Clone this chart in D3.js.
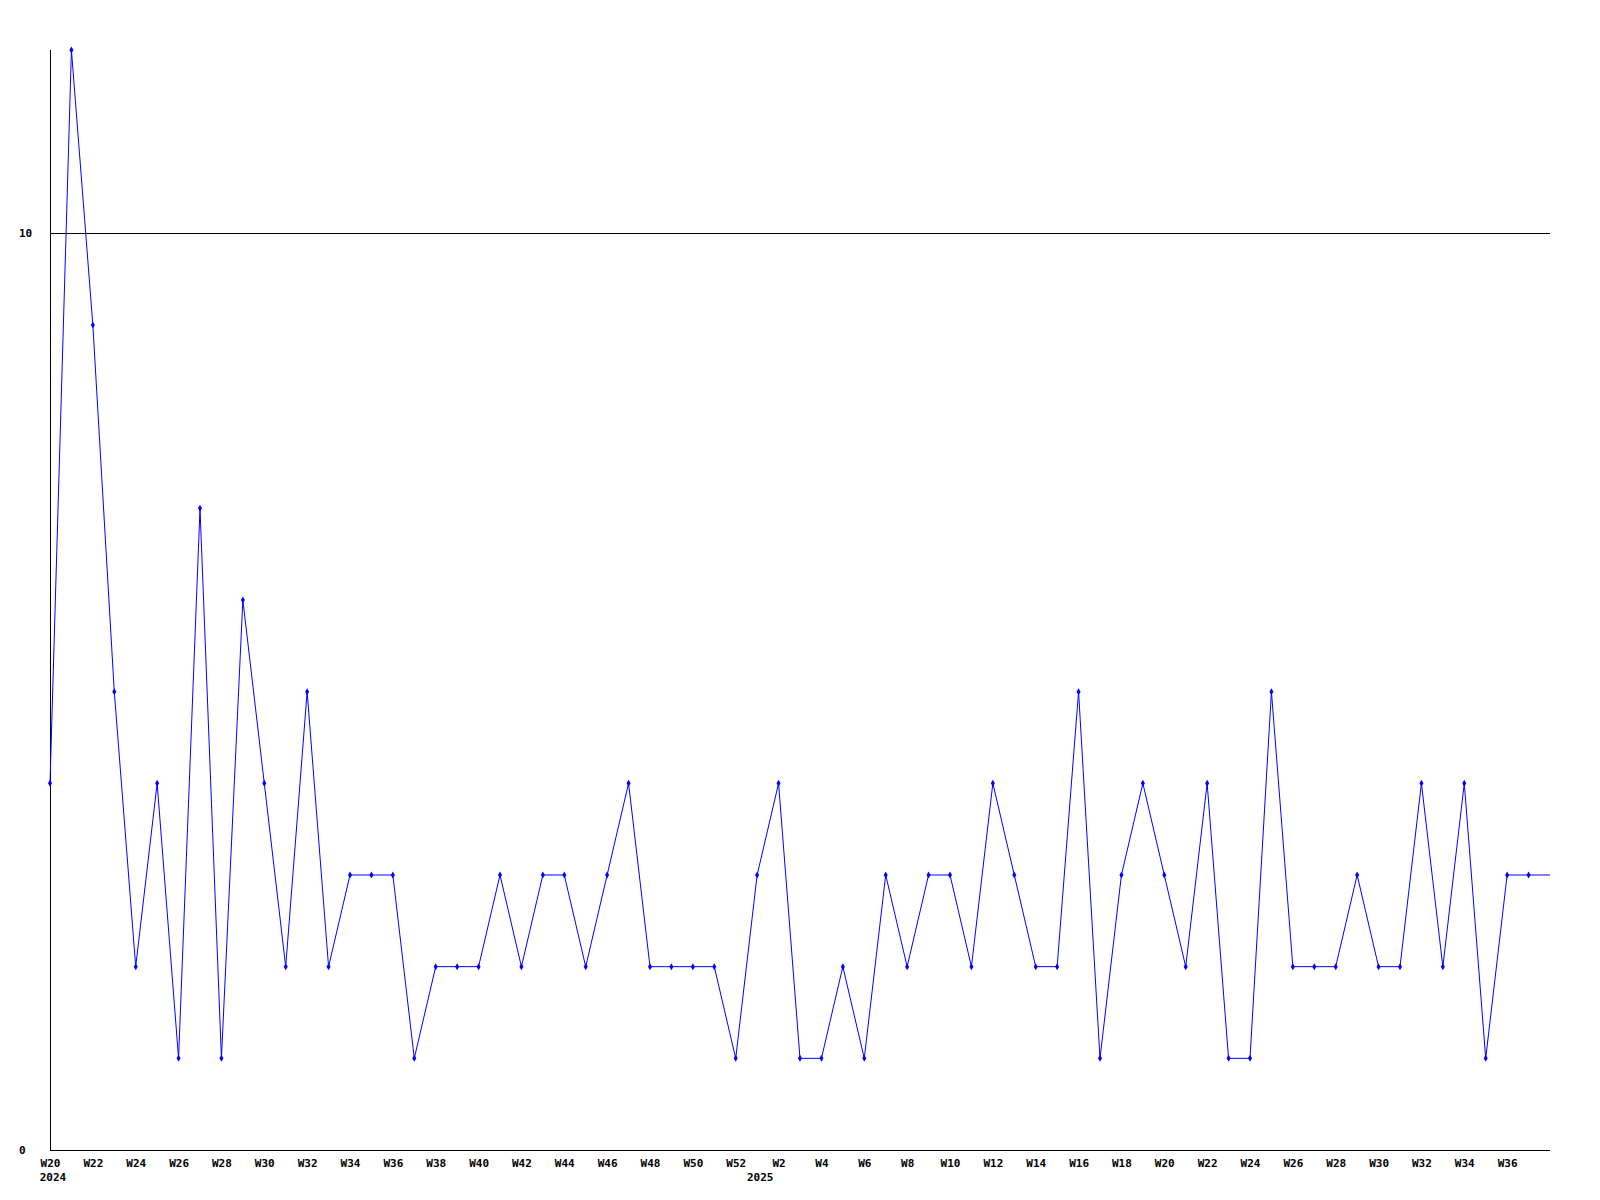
<!DOCTYPE html>
<html>
<head>
<meta charset="utf-8">
<script src="https://cdn.jsdelivr.net/npm/d3@7"></script>
<style>
  body { margin: 0; background: #fff; }
  text { font-family: "DejaVu Sans Mono", monospace; font-weight: bold; font-size: 11px; fill: #000; }
</style>
</head>
<body>
<script>
// weekly counts, 2024 W20 .. 2025 W38
var years = [2024, 2025];
var weeks2024 = d3.range(20, 53);   // W20..W52
var weeks2025 = d3.range(1, 39);    // W1..W38
var values2024 = [4, 12, 9, 5, 2, 4, 1, 7, 1, 6, 4, 2, 5, 2, 3, 3, 3, 1, 2, 2, 2, 3, 2, 3, 3, 2, 3, 4, 2, 2, 2, 2, 1];
var values2025 = [3, 4, 1, 1, 2, 1, 3, 2, 3, 3, 2, 4, 3, 2, 2, 5, 1, 3, 4, 3, 2, 4, 1, 1, 5, 2, 2, 2, 3, 2, 2, 4, 2, 4, 1, 3, 3, 3];
var yTicks = [0, 10];
var gridLines = [10];

var data = [];
weeks2024.forEach(function(w, i) { data.push({key: '2024-W' + w, year: 2024, week: w, count: values2024[i]}); });
weeks2025.forEach(function(w, i) { data.push({key: '2025-W' + w, year: 2025, week: w, count: values2025[i]}); });

var margin = {top: 50, right: 50, bottom: 50, left: 50};
var W = 1600, H = 1200;
var w = W - margin.left - margin.right;
var h = H - margin.top - margin.bottom;

var svg = d3.select('body').append('svg')
            .attr('width', W)
            .attr('height', H);

var xScale = d3.scalePoint()
               .domain(data.map(function(d) { return d.key; }))
               .range([margin.left, margin.left + w]);
var yScale = d3.scaleLinear()
               .domain([0, 12])
               .range([margin.top + h, margin.top]);

// grid line at 10
svg.selectAll('.grid')
   .data(gridLines)
   .enter().append('line')
   .attr('class', 'grid')
   .attr('x1', margin.left).attr('x2', margin.left + w)
   .attr('y1', function(d) { return Math.round(yScale(d)) + 0.5; })
   .attr('y2', function(d) { return Math.round(yScale(d)) + 0.5; })
   .attr('stroke', '#000').attr('shape-rendering', 'crispEdges');

// axes lines
svg.append('line')
   .attr('x1', margin.left + 0.5).attr('x2', margin.left + 0.5)
   .attr('y1', margin.top).attr('y2', margin.top + h)
   .attr('stroke', '#000').attr('shape-rendering', 'crispEdges');
svg.append('line')
   .attr('x1', margin.left).attr('x2', margin.left + w)
   .attr('y1', margin.top + h + 0.5).attr('y2', margin.top + h + 0.5)
   .attr('stroke', '#000').attr('shape-rendering', 'crispEdges');

// y labels
svg.selectAll('.ylab')
   .data(yTicks)
   .enter().append('text')
   .attr('class', 'ylab')
   .attr('x', 19)
   .attr('y', function(d) { return yScale(d) + 4; })
   .text(function(d) { return d; });

// x axis: every other week label
var xTickData = data.filter(function(d) { return d.week % 2 === 0 && !(d.year === 2025 && d.week > 36); });
var xAxis = d3.axisBottom(xScale)
              .tickValues(xTickData.map(function(d) { return d.key; }))
              .tickSize(0)
              .tickPadding(0)
              .tickFormat(function(k) { return 'W' + k.split('-W')[1]; });
var gx = svg.append('g')
            .attr('transform', 'translate(0,' + (margin.top + h + 9) + ')')
            .call(xAxis);
gx.select('.domain').remove();
gx.selectAll('text')
  .attr('fill', '#000')
  .style('font-family', '"DejaVu Sans Mono", monospace')
  .style('font-weight', 'bold')
  .style('font-size', '11px');

// year labels: first week of 2024 data and W1 of 2025
var yearAnchors = [data[0].key, '2025-W1'];
svg.selectAll('.yearlab')
   .data(years)
   .enter().append('text')
   .attr('class', 'yearlab')
   .attr('text-anchor', 'middle')
   .attr('x', function(d, i) { return xScale(yearAnchors[i]) + (i === 0 ? 3 : 3); })
   .attr('y', margin.top + h + 31)
   .text(function(d) { return d; });

// line
var line = d3.line()
             .x(function(d) { return xScale(d.key); })
             .y(function(d) { return yScale(d.count); });
svg.append('path')
   .datum(data)
   .attr('d', line)
   .attr('fill', 'none')
   .attr('stroke', '#0000ff')
   .attr('stroke-width', 1);

// markers (current partial week has none)
var diamond = d3.symbol().type(d3.symbolDiamond).size(14);
svg.selectAll('.pt')
   .data(data.slice(0, data.length - 1))
   .enter().append('path')
   .attr('class', 'pt')
   .attr('d', diamond)
   .attr('transform', function(d) { return 'translate(' + xScale(d.key) + ',' + yScale(d.count) + ')'; })
   .attr('fill', '#0000ff');
</script>
</body>
</html>
